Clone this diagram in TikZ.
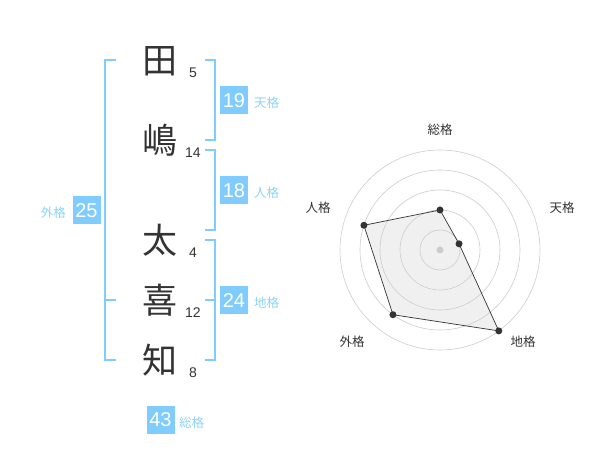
\documentclass[tikz,border=0pt]{standalone}
\usepackage{fontspec}
\setmainfont{Liberation Sans}
\newfontfamily\cjk{Noto Sans CJK JP}
\definecolor{skyb}{HTML}{80CCFF}
\definecolor{lbl}{HTML}{8CD2F8}
\definecolor{ink}{HTML}{333333}
\definecolor{ring}{HTML}{CCCCCC}
\begin{document}
\begin{tikzpicture}[x=1pt,y=-1pt,
  namechar/.style={inner sep=0pt,text=ink,font=\cjk\fontsize{35}{35}\selectfont},
  strokes/.style={inner sep=0pt,text=ink,font=\fontsize{14}{14}\selectfont},
  valbox/.style={fill=skyb,text=white,minimum width=28pt,minimum height=28pt,inner sep=0pt,font=\fontsize{20}{20}\selectfont},
  kaku/.style={inner sep=0pt,text=lbl,font=\cjk\fontsize{12.5}{12.5}\selectfont},
  brk/.style={draw=skyb,line width=2pt},
  radlbl/.style={inner sep=0pt,text=ink,font=\cjk\fontsize{12.5}{12.5}\selectfont},
  ringline/.style={draw=ring,line width=0.6pt},
  dotm/.style={circle,fill=ink,inner sep=0pt,minimum size=7pt}]
\useasboundingbox (0,0) rectangle (600,470);
% name characters
\node[namechar] (c1) at (160,61) {田};
\node[namechar] (c2) at (160,140) {嶋};
\node[namechar] (c3) at (160,240) {太};
\node[namechar] (c4) at (160,300) {喜};
\node[namechar] (c5) at (160,360) {知};
\node[strokes] (s1) at (193,73) {5};
\node[strokes] (s2) at (193,153) {14};
\node[strokes] (s3) at (193,253) {4};
\node[strokes] (s4) at (193,313) {12};
\node[strokes] (s5) at (193,373) {8};
% brackets
\coordinate (g1) at (116,60); \coordinate (g2) at (105,60);
\coordinate (g3) at (105,360); \coordinate (g4) at (116,360);
\coordinate (gm1) at (105,300); \coordinate (gm2) at (116,300);
\draw[brk] (g1) -- (g2) -- (g3) -- (g4);
\draw[brk] (gm1) -- (gm2);
\coordinate (t1) at (205,60); \coordinate (t2) at (215,60);
\coordinate (t3) at (215,140); \coordinate (t4) at (205,140);
\draw[brk] (t1) -- (t2) -- (t3) -- (t4);
\coordinate (j1) at (205,150); \coordinate (j2) at (215,150);
\coordinate (j3) at (215,230); \coordinate (j4) at (205,230);
\draw[brk] (j1) -- (j2) -- (j3) -- (j4);
\coordinate (k1) at (205,240); \coordinate (k2) at (215,240);
\coordinate (k3) at (215,360); \coordinate (k4) at (205,360);
\coordinate (km1) at (205,300); \coordinate (km2) at (215,300);
\draw[brk] (k1) -- (k2) -- (k3) -- (k4);
\draw[brk] (km1) -- (km2);
% value boxes
\node[valbox] (b19) at (234,100.5) {19};
\node[kaku, anchor=west] (l19) at (254,103) {天格};
\node[valbox] (b18) at (234,190.5) {18};
\node[kaku, anchor=west] (l18) at (254,193) {人格};
\node[valbox] (b24) at (234,300.5) {24};
\node[kaku, anchor=west] (l24) at (254,303) {地格};
\node[valbox] (b25) at (86.5,210.5) {25};
\node[kaku, anchor=east] (l25) at (66,213) {外格};
\node[valbox] (b43) at (160.5,419.5) {43};
\node[kaku, anchor=west] (l43) at (179,422.5) {総格};
% radar chart
\begin{scope}[shift={(440,250)},yscale=-1]
  \coordinate (p1) at (90:40);
  \coordinate (p2) at (18:20);
  \coordinate (p3) at (-54:100);
  \coordinate (p4) at (-126:80);
  \coordinate (p5) at (162:80);
  \fill[black!6] (p1) -- (p2) -- (p3) -- (p4) -- (p5) -- cycle;
  \foreach \r in {20,40,60,80,100} \draw[ringline] (0,0) circle (\r);
  \node[circle,fill=ring,inner sep=0pt,minimum size=7pt] (ctr) at (0,0) {};
  \draw[draw=ink,line width=0.7pt] (p1) -- (p2) -- (p3) -- (p4) -- (p5) -- cycle;
  \foreach \p in {p1,p2,p3,p4,p5} \node[dotm] at (\p) {};
\end{scope}
\node[radlbl] (r1) at (440,130) {総格};
\node[radlbl] (r2) at (562,208) {天格};
\node[radlbl] (r3) at (523,342) {地格};
\node[radlbl] (r4) at (352,342) {外格};
\node[radlbl] (r5) at (318,208) {人格};
\end{tikzpicture}
\end{document}
